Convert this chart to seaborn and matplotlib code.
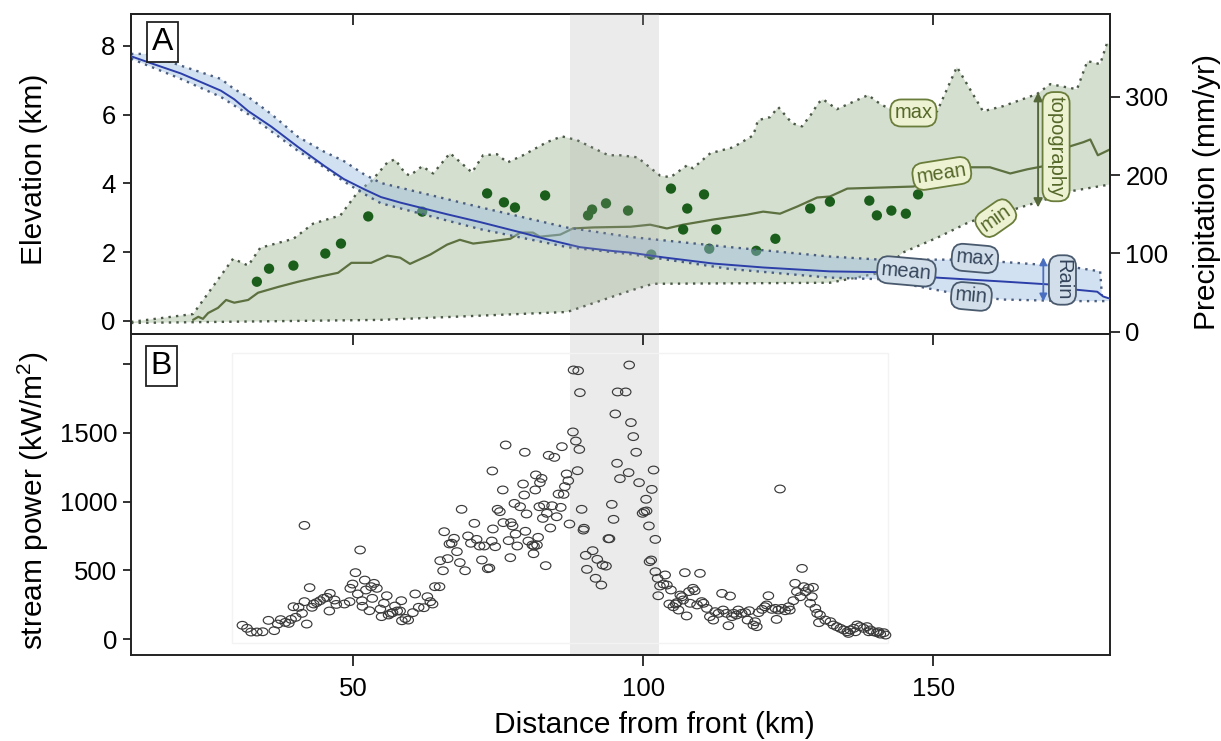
import numpy as np
import matplotlib
matplotlib.use('Agg')
import matplotlib.pyplot as plt
import seaborn as sns
from matplotlib.path import Path
from matplotlib.patches import Rectangle

# ---------------- data ----------------
# topography (km)
topo_max_x = [11.7, 22.4, 29.3, 31.9, 34.0, 34.7, 39.7, 43.1, 47.8, 50.9, 53.1, 55.9, 57.2, 59.0, 59.8, 61.9,
              63.8, 66.7, 70.5, 72.4, 74.8, 76.6, 79.3, 83.4, 86.0, 88.6, 94.0, 96.0, 99.0, 102.9, 104.7,
              107.6, 108.6, 111.6, 115.5, 119.0, 119.8, 121.9, 123.3, 125.7, 127.4, 129.1, 130.2, 131.0,
              133.4, 138.8, 140.9, 142.6, 150.7, 154.1, 158.6, 162.1, 167.9, 170.2, 174.8, 176.6, 178.8,
              180.0, 180.5]
topo_max = [-0.03, 0.20, 1.81, 1.61, 2.13, 2.16, 2.39, 2.83, 3.07, 3.77, 4.06, 4.61, 4.70, 4.29, 4.23, 4.50,
            4.29, 4.88, 4.32, 4.82, 4.85, 4.61, 4.82, 5.20, 5.37, 5.26, 4.82, 4.82, 4.76, 4.23, 4.18,
            4.53, 4.44, 4.88, 5.05, 5.40, 5.84, 5.93, 6.22, 5.75, 5.66, 6.04, 6.34, 6.45,
            6.16, 6.57, 6.31, 6.16, 6.10, 7.39, 6.10, 6.25, 6.60, 6.89, 6.74, 7.56, 7.47,
            8.09, 8.03]
topo_min_x = [11.7, 54.8, 86.9, 97.8, 101.7, 132.2, 140.9, 144.8, 150.7, 156.4, 162.1, 167.9, 173.6, 180.5]
topo_min = [-0.06, 0.03, 0.26, 0.88, 1.08, 1.11, 1.40, 1.99, 2.42, 2.89, 3.15, 3.45, 3.77, 3.97]
topo_mean_x = [22.4, 23.3, 24.1, 25.0, 26.7, 28.1, 29.5, 31.9, 33.6, 37.1, 40.5, 44.0, 47.4, 49.7, 53.1,
               55.9, 58.1, 59.8, 63.3, 66.2, 68.4, 70.7, 73.6, 77.1, 78.8, 81.0, 82.2, 85.7, 87.9, 91.4,
               97.8, 101.2, 104.1, 106.9, 112.1, 117.9, 120.7, 123.6, 126.6, 130.0, 132.2, 135.2, 140.9,
               146.6, 156.4, 159.8, 163.3, 166.2, 169.0, 173.6, 175.9, 177.1, 178.4, 180.5]
topo_mean = [0.03, 0.12, 0.06, 0.23, 0.38, 0.61, 0.53, 0.61, 0.82, 0.99, 1.14, 1.28, 1.40, 1.69, 1.69,
             1.90, 1.84, 1.66, 1.93, 2.22, 2.36, 2.25, 2.31, 2.39, 2.57, 2.57, 2.45, 2.51, 2.69, 2.72,
             2.74, 2.80, 2.69, 2.80, 2.95, 3.09, 3.18, 3.12, 3.33, 3.59, 3.62, 3.85, 3.88,
             3.91, 4.47, 4.47, 4.29, 4.41, 4.50, 5.08, 5.20, 5.28, 4.82, 4.99]

# sample points (km)
dot_x = [33.4, 35.5, 39.7, 45.2, 47.9, 52.6, 61.9, 73.1, 76.0, 77.9, 83.1, 90.5, 91.2, 93.6, 97.4, 101.4,
         104.8, 107.6, 110.5, 106.9, 112.6, 111.4, 119.5, 122.8, 128.8, 132.2, 139.0, 140.3, 142.8,
         145.3, 147.4]
dot_elev = [1.14, 1.52, 1.61, 1.96, 2.25, 3.04, 3.18, 3.71, 3.45, 3.30, 3.65, 3.07, 3.24, 3.42, 3.21, 1.93,
            3.85, 3.27, 3.68, 2.66, 2.66, 2.10, 2.04, 2.39, 3.27, 3.47, 3.50, 3.07, 3.21,
            3.12, 3.68]

# precipitation (mm/yr)
rain_mean_x = [11.7, 14.0, 20.3, 27.2, 29.5, 31.9, 35.9, 40.5, 45.0, 48.4, 51.9, 54.8, 58.1, 66.2, 71.9,
               78.8, 83.4, 89.1, 94.8, 97.8, 103.4, 112.1, 120.7, 132.2, 140.9, 150.7, 162.1, 170.7,
               174.1, 178.3, 179.3, 180.5]
rain_mean = [352, 346, 330, 308, 297, 282, 262, 236, 212, 195, 182, 172, 165, 150, 140,
             127, 118, 108, 103, 101, 95, 87, 82, 77, 76, 69, 64, 60,
             54, 51, 45, 42]
rain_max_x = [11.7, 14.3, 20.3, 27.2, 29.5, 31.9, 35.9, 40.5, 45.0, 48.4, 51.9, 54.8, 71.9, 86.9, 97.8,
              115.0, 132.2, 140.9, 153.4, 162.1, 173.6, 178.8, 179.1]
rain_max = [355, 355, 340, 323, 310, 300, 278, 249, 230, 218, 201, 190, 159, 133, 121,
            108, 96, 92, 92, 89, 83, 77, 47]
rain_min_x = [11.7, 14.0, 20.3, 27.2, 29.5, 31.9, 35.9, 40.5, 45.0, 48.4, 51.9, 54.8, 71.9, 86.9, 97.8,
              115.0, 132.2, 140.9, 156.4, 162.1, 173.6, 180.5]
rain_min = [349, 342, 323, 300, 289, 278, 256, 231, 210, 192, 176, 164, 131, 108, 99,
            80, 69, 67, 45, 41, 39, 39]

# stream power (kW/m2)
sp_x = [30.9, 31.7, 32.4, 33.4, 34.4, 35.4, 36.4, 37.0, 37.5, 38.3, 38.9, 39.3, 39.7, 40.1, 40.6, 41.2,
        41.6, 41.6, 42.0, 42.5, 42.9, 43.2, 43.7, 44.3, 44.9, 45.5, 46.0, 45.9, 46.8, 47.1, 48.5, 49.4,
        49.5, 49.9, 50.4, 50.8, 51.2, 51.5, 51.6, 52.0, 52.2, 52.8, 53.1, 53.3, 53.6, 54.1, 54.7, 54.9,
        55.3, 55.8, 56.1, 56.5, 56.8, 57.2, 57.6, 58.1, 58.3, 58.4, 59.0, 59.5, 60.3, 60.7, 61.3,
        62.2, 62.8, 63.3, 63.7, 64.1, 64.9, 65.0, 65.5, 65.7, 66.3, 66.6, 67.0, 67.4, 67.9, 68.4, 68.7,
        69.3, 69.8, 70.3, 70.9, 71.3, 71.8, 72.2, 72.6, 73.2, 73.5, 73.9, 74.0, 74.1, 74.5, 74.9, 75.3,
        75.8, 75.9, 76.3, 76.8, 77.1, 77.2, 77.5, 77.8, 78.0, 78.3, 78.8, 79.3, 79.5, 79.6, 79.7, 79.9,
        80.2, 80.9, 81.1, 81.2, 81.4, 81.5, 81.7, 81.9, 82.1, 82.2, 82.5, 82.7, 82.9, 83.2, 83.4, 83.7,
        84.0, 84.3, 84.7, 85.1, 85.4, 85.8, 86.0, 86.3, 86.5, 86.8, 87.1, 87.3, 87.9, 88.0, 88.4, 88.8,
        89.0, 89.1, 88.7, 89.4, 89.7, 89.8, 90.1, 90.3, 91.3, 91.8, 92.1, 92.8, 93.0, 93.6, 94.0, 94.2,
        94.6, 94.9, 95.2, 95.5, 95.6, 96.0, 97.0, 97.5, 97.6, 97.9, 98.3, 98.8, 99.3, 99.9, 100.2, 100.5,
        100.6, 101.0, 101.1, 101.4, 101.5, 101.8, 102.1, 102.1, 102.5, 102.6, 102.9, 103.5, 103.8, 104.1,
        104.5, 104.8, 105.2, 105.6, 105.8, 106.1, 106.4, 106.7, 106.9, 107.2, 107.5, 107.9, 108.1, 108.6,
        108.9, 109.3, 109.8, 110.1, 110.4, 111.0, 111.5, 112.1, 112.4, 113.0, 113.6, 113.8, 114.4, 114.7,
        115.0, 115.3, 115.6, 116.1, 116.4, 117.0, 117.6, 118.0, 118.3, 119.0, 119.3, 119.6, 119.9, 120.5,
        121.0, 121.3, 121.6, 122.2, 122.8, 123.0, 123.3, 123.6, 123.9, 124.5, 125.1, 125.3, 125.9, 126.2,
        126.5, 127.1, 127.4, 127.7, 128.0, 128.5, 129.1, 129.3, 128.8, 129.7, 130.0, 130.5, 130.3, 131.4,
        132.3, 132.8, 133.4, 134.0, 134.6, 135.2, 135.7, 136.3, 136.9, 137.4, 138.0, 138.6, 139.2, 139.7,
        140.3, 140.9, 141.8, 135.4, 136.6, 138.9, 140.6, 141.5]
sp_val = [100, 78, 51, 51, 53, 136, 61, 109, 141, 121, 114, 143, 235, 158, 231, 187,
          272, 827, 109, 374, 231, 255, 265, 279, 296, 303, 332, 204, 284, 252, 255, 272,
          369, 400, 483, 328, 648, 279, 238, 429, 357, 206, 381, 296, 405, 369, 218, 163,
          260, 315, 175, 187, 192, 240, 204, 204, 279, 133, 150, 138, 192, 328, 231,
          228, 308, 272, 255, 381, 381, 570, 497, 781, 585, 692, 697, 733, 636, 556, 944,
          497, 750, 697, 842, 725, 677, 575, 677, 512, 517, 713, 1223, 801, 672, 944, 927,
          1085, 847, 1412, 716, 592, 847, 823, 987, 764, 677, 963, 1128, 1048, 1359, 784, 910,
          713, 684, 621, 677, 1085, 1194, 684, 740, 963, 1138, 1169, 878, 975, 534, 915, 1337,
          808, 970, 1322, 890, 1055, 958, 1400, 1053, 1109, 1201, 1152, 837, 1507, 1958, 1441, 1953,
          1380, 1793, 1225, 944, 793, 806, 609, 507, 643, 442, 580, 393, 539, 531, 730, 730,
          980, 871, 1638, 1279, 1798, 1167, 1798, 1211, 1994, 1575, 1473, 1359, 1138, 915, 927, 1017,
          932, 823, 563, 575, 1089, 1230, 725, 490, 442, 315, 386, 400, 466, 393,
          255, 357, 235, 255, 265, 211, 320, 308, 284, 483, 168, 345, 260, 369,
          352, 248, 478, 272, 260, 223, 163, 138, 199, 187, 332, 211, 187, 97,
          313, 163, 187, 175, 211, 187, 192, 138, 206, 102, 126, 90, 192, 216,
          235, 248, 315, 216, 223, 143, 211, 1092, 223, 206, 235, 211, 279, 405,
          345, 308, 514, 381, 345, 369, 308, 376, 260, 223, 187, 175, 119, 138,
          126, 102, 90, 78, 66, 53, 66, 78, 102, 90, 78, 90, 66, 53,
          46, 36, 29, 41, 53, 53, 53, 46]

x_ticks = [50, 100, 150]
elev_ticks = [0, 2, 4, 6, 8]
precip_ticks = [0, 100, 200, 300]
sp_ticks = [0, 500, 1000, 1500, 2000]
sp_tick_labels = ['0', '500', '1000', '1500', '']
focus_zone = (87.4, 102.8)

# ---------------- style ----------------
sns.set_theme(style='ticks')
plt.rcParams['font.family'] = ['Liberation Sans', 'DejaVu Sans']
plt.rcParams['mathtext.fontset'] = 'custom'
plt.rcParams['mathtext.rm'] = 'Liberation Sans'
plt.rcParams['mathtext.it'] = 'Liberation Sans:italic'
for k in ('text.color', 'axes.labelcolor', 'xtick.color', 'ytick.color',
          'xtick.labelcolor', 'ytick.labelcolor'):
    plt.rcParams[k] = 'black'

SPINE = '#222222'
TICK_FS = 18.5
LABEL_FS = 21.5
TAG_FS = 14.5

fig = plt.figure(figsize=(12.21, 7.41), dpi=100)
ax = fig.add_axes([0.1073, 0.5493, 0.8018, 0.4318])
axb = fig.add_axes([0.1073, 0.1161, 0.8018, 0.4332], sharex=ax)
axr = ax.twinx()

# ---------- panel A: topography ----------
tmx = np.asarray(topo_max_x); tmv = np.asarray(topo_max)
tnx = np.asarray(topo_min_x); tnv = np.asarray(topo_min)
ax.fill(np.r_[tmx, tnx[::-1]], np.r_[tmv, tnv[::-1]], color='#d5dfcf', lw=0, zorder=1)
dot_ls = (0, (1, 2.2))
sns.lineplot(x=topo_max_x, y=topo_max, ax=ax, color='#4a5846', lw=1.7, linestyle=dot_ls,
             sort=False, estimator=None, zorder=2)
sns.lineplot(x=topo_min_x, y=topo_min, ax=ax, color='#4a5846', lw=1.7, linestyle=dot_ls,
             sort=False, estimator=None, zorder=2)
sns.lineplot(x=topo_mean_x, y=topo_mean, ax=ax, color='#5c7040', lw=1.6,
             sort=False, estimator=None, zorder=2)
sns.scatterplot(x=dot_x, y=dot_elev, ax=ax, color='#1b5e1b', s=55, edgecolor='none', zorder=3)

# ---------- panel A: rain ----------
rxx = np.asarray(rain_max_x); rxv = np.asarray(rain_max)
rnx = np.asarray(rain_min_x); rnv = np.asarray(rain_min)
axr.fill(np.r_[rxx, rnx[::-1]], np.r_[rxv, rnv[::-1]], color='#9dbde0', alpha=0.45, lw=0, zorder=1)
sns.lineplot(x=rain_max_x, y=rain_max, ax=axr, color='#4b5e80', lw=1.7, linestyle=dot_ls,
             sort=False, estimator=None, zorder=2)
sns.lineplot(x=rain_min_x, y=rain_min, ax=axr, color='#4b5e80', lw=1.7, linestyle=dot_ls,
             sort=False, estimator=None, zorder=2)
sns.lineplot(x=rain_mean_x, y=rain_mean, ax=axr, color='#2c3ea8', lw=1.4,
             sort=False, estimator=None, zorder=3)
axr.axvspan(*focus_zone, color='#a8a8a8', alpha=0.22, lw=0, zorder=8)

# tags
def tag(a, x, y, s, rot, fc, ec, tc):
    a.text(x, y, s, rotation=rot, ha='center', va='center', fontsize=TAG_FS, color=tc,
           rotation_mode='anchor', zorder=9,
           bbox=dict(boxstyle='round,pad=0.2,rounding_size=0.55', fc=fc, ec=ec, lw=1.3))

T_FC, T_EC, T_TC = '#edf2d2', '#6a7d3a', '#55682a'
R_FC, R_EC, R_TC = '#d2dfea', '#4a5a6e', '#34445a'
tag(ax, 146.6, 6.05, 'max', 0, T_FC, T_EC, T_TC)
tag(ax, 151.5, 4.29, 'mean', 9, T_FC, T_EC, T_TC)
tag(ax, 160.8, 2.99, 'min', 35, T_FC, T_EC, T_TC)
tag(ax, 171.2, 5.07, 'topography', -90, T_FC, T_EC, T_TC)
ax.annotate('', xy=(168.1, 6.66), xytext=(168.1, 3.30),
            arrowprops=dict(arrowstyle='<|-|>', color='#55683a', lw=1.4, mutation_scale=13,
                            shrinkA=0, shrinkB=0), zorder=5)
tag(axr, 157.2, 93.6, 'max', -5, R_FC, R_EC, R_TC)
tag(axr, 145.4, 77, 'mean', -5, R_FC, R_EC, R_TC)
tag(axr, 156.6, 45, 'min', -5, R_FC, R_EC, R_TC)
tag(axr, 172.3, 66, 'Rain', -90, R_FC, R_EC, R_TC)
axr.annotate('', xy=(169.0, 95), xytext=(169.0, 38.5),
             arrowprops=dict(arrowstyle='<|-|>', color='#4a6fc0', lw=1.3, mutation_scale=11,
                             shrinkA=0, shrinkB=0), zorder=5)

axr.text(0.032, 0.9125, 'A', transform=ax.transAxes, fontsize=23, ha='center', va='center',
         zorder=10, bbox=dict(boxstyle='square,pad=0.15', fc='white', ec=SPINE, lw=1.3))

# ---------- panel B ----------
axb.axvspan(*focus_zone, color='#ebebeb', lw=0, zorder=0)
axb.add_patch(Rectangle((29.1, -30), 113.2, 2110, fill=False, ec='#f3f3f3', lw=1.0, zorder=0.5))
circ = Path.unit_circle()
ell = Path(circ.vertices * np.array([1.35, 1.0]), circ.codes)
sns.scatterplot(x=sp_x, y=sp_val, ax=axb, marker=ell, s=56, color='#333333', zorder=3)
coll = axb.collections[-1]
coll.set_facecolor('none')
coll.set_edgecolor('#3a3a3a')
coll.set_linewidth(0.85)
axb.text(0.031, 0.90, 'B', transform=axb.transAxes, fontsize=23, ha='center', va='center',
         zorder=10, bbox=dict(boxstyle='square,pad=0.15', fc='white', ec=SPINE, lw=1.3))

# ---------- axes ----------
ax.set_xlim(11.7, 180.5)
ax.set_ylim(-0.38, 8.93)
axr.set_ylim(-3, 406)
axb.set_ylim(-116, 2220)

ax.set_yticks(elev_ticks)
axr.set_yticks(precip_ticks)
axb.set_yticks(sp_ticks)
axb.set_yticklabels(sp_tick_labels)
axb.set_xticks(x_ticks)

for a in (ax, axb, axr):
    for sp in a.spines.values():
        sp.set_visible(True)
        sp.set_linewidth(1.4)
        sp.set_color(SPINE)

ax.tick_params(axis='y', direction='out', length=6, width=1.3, labelsize=TICK_FS, pad=5,
               color=SPINE, right=False)
ax.tick_params(axis='x', top=True, bottom=False, labelbottom=False, direction='in', length=8,
               width=1.3, color=SPINE)
axr.tick_params(axis='y', direction='out', length=7, width=1.3, labelsize=TICK_FS, pad=4, color=SPINE)
axb.tick_params(axis='y', direction='out', length=6, width=1.3, labelsize=TICK_FS, pad=4, color=SPINE)
axb.tick_params(axis='x', direction='out', length=8, width=1.3, labelsize=TICK_FS, pad=8, color=SPINE)
sec = axb.secondary_xaxis('top')
sec.set_xticks(x_ticks)
sec.set_xticklabels([])
sec.tick_params(direction='in', length=8, width=1.3, color=SPINE)
sec.spines['top'].set_visible(False)

ax.set_xlabel('')
axr.set_xlabel('')
ax.set_ylabel('Elevation (km)', fontsize=LABEL_FS)
ax.yaxis.set_label_coords(-0.085, 0.516)
axr.set_ylabel('Precipitation (mm/yr)', fontsize=LABEL_FS, rotation=90)
axr.yaxis.set_label_coords(1.085, 0.444)
axb.set_ylabel('stream power (kW/m$^2$)', fontsize=LABEL_FS)
axb.yaxis.set_label_coords(-0.082, 0.48)
axb.set_xlabel('Distance from front (km)', fontsize=LABEL_FS)
axb.xaxis.set_label_coords(0.535, -0.174)

fig.savefig('out.png', dpi=100)
